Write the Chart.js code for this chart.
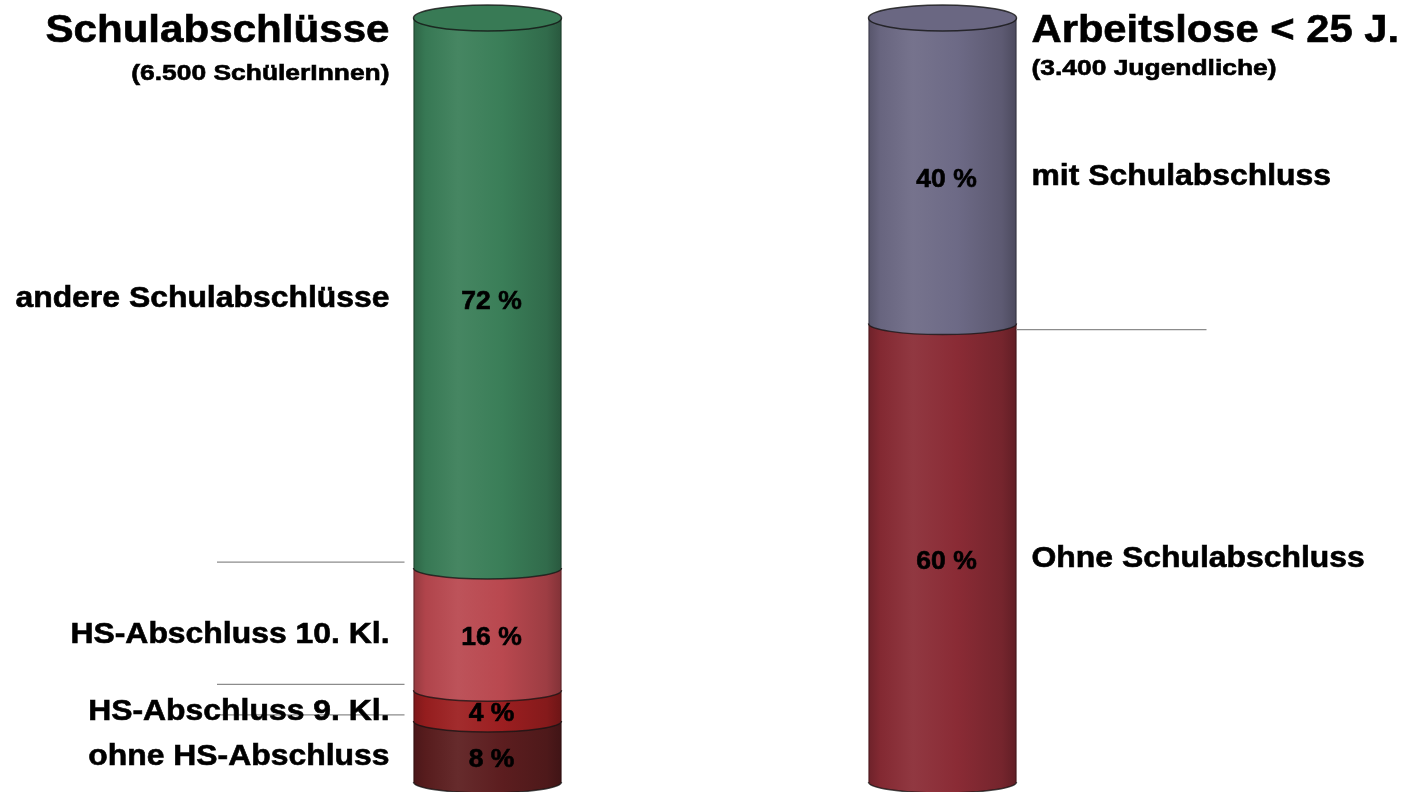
<!DOCTYPE html>
<html>
<head>
<meta charset="utf-8">
<script src="https://cdn.jsdelivr.net/npm/chart.js@4.4.1/dist/chart.umd.min.js"></script>
<style>
  html, body { margin: 0; padding: 0; background: #fff; }
  #wrap { width: 1411px; height: 792px; }
</style>
</head>
<body>
<div id="wrap"><canvas id="chart"></canvas></div>
<script>
// Data (stacked bottom to top)
const stacks = ['Schulabschlüsse', 'Arbeitslose < 25 J.'];
const subtitles = ['(6.500 SchülerInnen)', '(3.400 Jugendliche)'];

const leftCategories = ['ohne HS-Abschluss', 'HS-Abschluss 9. Kl.', 'HS-Abschluss 10. Kl.', 'andere Schulabschlüsse'];
const leftValues = [8, 4, 16, 72];
const leftColors = ['#5c1d1f', '#9c1e20', '#b9484f', '#3a7e58'];

const rightCategories = ['Ohne Schulabschluss', 'mit Schulabschluss'];
const rightValues = [60, 40];
const rightColors = ['#8a2b35', '#6d6a86'];

const FONT = '"Liberation Sans", Arial, sans-serif';

function shade(hex, f) {
    let r = parseInt(hex.substr(1, 2), 16), g = parseInt(hex.substr(3, 2), 16), b = parseInt(hex.substr(5, 2), 16);
    if (f >= 1) {
        r = r + (255 - r) * (f - 1); g = g + (255 - g) * (f - 1); b = b + (255 - b) * (f - 1);
    } else {
        r *= f; g *= f; b *= f;
    }
    return 'rgb(' + Math.round(r) + ',' + Math.round(g) + ',' + Math.round(b) + ')';
}

// text in the original is a bit wider than Arial, so stretch it
function drawText(ctx, txt, x, y, size, stretch, align) {
    ctx.save();
    ctx.font = 'bold ' + size + 'px ' + FONT;
    ctx.textAlign = align;
    ctx.textBaseline = 'middle';
    ctx.fillStyle = '#000';
    ctx.strokeStyle = '#000';
    ctx.lineWidth = 0.6;
    ctx.translate(x, y);
    ctx.scale(stretch, 1);
    ctx.fillText(txt, 0, 0);
    ctx.strokeText(txt, 0, 0);
    ctx.restore();
}

// build datasets: one per segment
const datasets = [];
leftValues.forEach(function(v, i) {
    datasets.push({ label: leftCategories[i], data: [v, null], color: leftColors[i], side: 0 });
});
rightValues.forEach(function(v, i) {
    datasets.push({ label: rightCategories[i], data: [null, v], color: rightColors[i], side: 1 });
});
datasets.forEach(function(ds) {
    ds.backgroundColor = 'rgba(0,0,0,0)';
    ds.borderWidth = 0;
    ds.barThickness = 148;
});

const RY = 11;

// draws the bars as cylinders plus all texts
const cylinderPlugin = {
    id: 'cylinders',
    afterDatasetsDraw(chart) {
        const ctx = chart.ctx;
        ctx.save();
        const tops = [null, null];

        chart.data.datasets.forEach(function(ds, di) {
            const meta = chart.getDatasetMeta(di);
            const idx = ds.side;
            const el = meta.data[idx];
            if (!el || ds.data[idx] == null) return;
            const x = el.x, w = el.width, top = el.y, base = el.base;
            const l = x - w / 2, r = x + w / 2, rx = w / 2;

            const grad = ctx.createLinearGradient(l, 0, r, 0);
            grad.addColorStop(0, shade(ds.color, 0.8));
            grad.addColorStop(0.08, shade(ds.color, 0.95));
            grad.addColorStop(0.3, shade(ds.color, 1.06));
            grad.addColorStop(0.6, shade(ds.color, 1.0));
            grad.addColorStop(0.9, shade(ds.color, 0.85));
            grad.addColorStop(1, shade(ds.color, 0.7));

            // body + lower front arc
            ctx.beginPath();
            ctx.moveTo(l, top);
            ctx.lineTo(r, top);
            ctx.lineTo(r, base);
            ctx.ellipse(x, base, rx, RY, 0, 0, Math.PI, false);
            ctx.closePath();
            ctx.fillStyle = grad;
            ctx.fill();

            // boundary arc
            ctx.beginPath();
            ctx.ellipse(x, base, rx, RY, 0, 0, Math.PI, false);
            ctx.strokeStyle = 'rgba(20,20,20,0.75)';
            ctx.lineWidth = 1.5;
            ctx.stroke();

            // side edges
            ctx.beginPath();
            ctx.moveTo(l + 0.5, top); ctx.lineTo(l + 0.5, base);
            ctx.moveTo(r - 0.5, top); ctx.lineTo(r - 0.5, base);
            ctx.strokeStyle = 'rgba(0,0,0,0.35)';
            ctx.lineWidth = 1;
            ctx.stroke();

            tops[idx] = { x: x, rx: rx, top: top, color: ds.color };

            const mid = (top + base) / 2;
            // percent label
            drawText(ctx, ds.data[idx] + ' %', x + 4, mid + 9, 25, 1.06, 'center');

            // category label
            if (idx === 0) {
                drawText(ctx, ds.label, l - 24, mid + 6, 29, 1.1, 'right');
            } else {
                drawText(ctx, ds.label, r + 15, mid + 6, 29, 1.1, 'left');
            }

            // separator line at the upper boundary (not for the topmost)
            const isTop = (idx === 0 && di === leftValues.length - 1) || (idx === 1 && di === datasets.length - 1);
            if (!isTop) {
                ctx.beginPath();
                ctx.strokeStyle = '#8c8c8c';
                ctx.lineWidth = 1.2;
                if (idx === 0) {
                    ctx.moveTo(217, top - 6); ctx.lineTo(l - 9, top - 6);
                } else {
                    ctx.moveTo(r, top + 6); ctx.lineTo(r + 190, top + 6);
                }
                ctx.stroke();
            }
        });

        // top ellipses + titles
        tops.forEach(function(t, i) {
            if (!t) return;
            ctx.beginPath();
            ctx.ellipse(t.x, t.top, t.rx, RY + 2, 0, 0, Math.PI * 2);
            ctx.fillStyle = shade(t.color, 0.97);
            ctx.fill();
            ctx.strokeStyle = 'rgba(20,20,20,0.8)';
            ctx.lineWidth = 1.5;
            ctx.stroke();

            const l = t.x - t.rx, r = t.x + t.rx;
            if (i === 0) {
                drawText(ctx, stacks[i], l - 24, 31, 39, 1.08, 'right');
                drawText(ctx, subtitles[i], l - 24, 74, 22, 1.2, 'right');
            } else {
                drawText(ctx, stacks[i], r + 15, 31, 39, 1.07, 'left');
                drawText(ctx, subtitles[i], r + 15, 69, 22, 1.2, 'left');
            }
        });
        ctx.restore();
    }
};

new Chart(document.getElementById('chart'), {
    type: 'bar',
    data: { labels: stacks, datasets: datasets },
    options: {
        responsive: true,
        maintainAspectRatio: false,
        animation: false,
        layout: { padding: { left: 260, right: 241, top: 18, bottom: 10 } },
        scales: {
            x: { stacked: true, display: false },
            y: { stacked: true, display: false, min: 0, max: 100 }
        },
        plugins: {
            legend: { display: false },
            tooltip: { enabled: false }
        }
    },
    plugins: [cylinderPlugin]
});
</script>
</body>
</html>
